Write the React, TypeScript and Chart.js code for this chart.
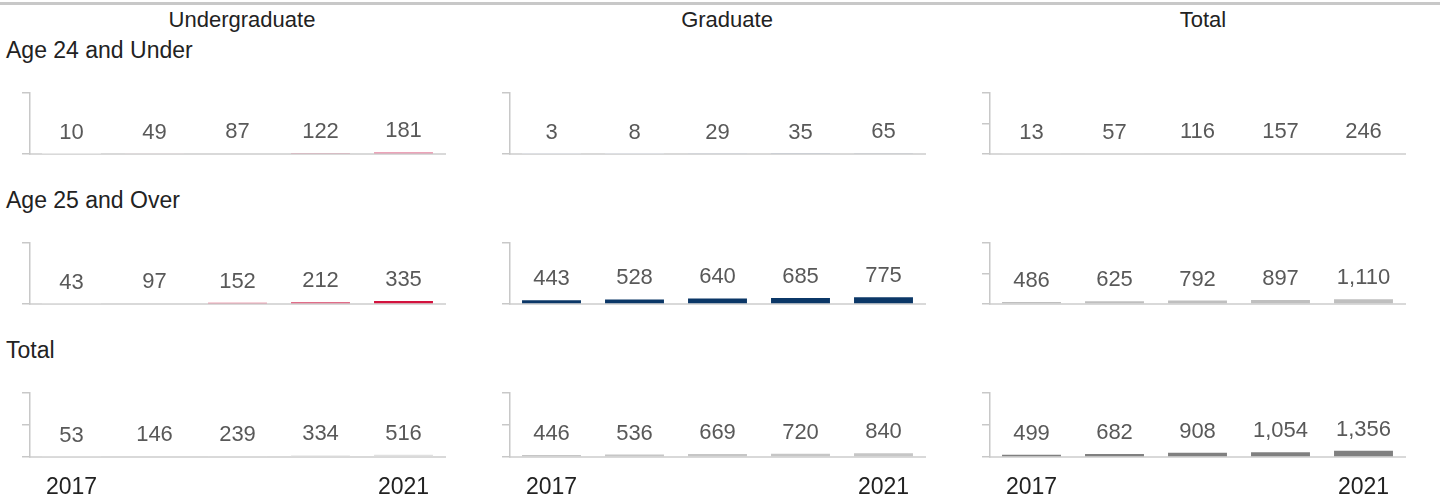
import React, { useEffect, useRef } from "react";
import { Chart, registerables } from "chart.js";

Chart.register(...registerables);

// ---- Data ----
const years = ["2017", "2018", "2019", "2020", "2021"];
const columnHeaders = ["Undergraduate", "Graduate", "Total"];
const rowTitles = ["Age 24 and Under", "Age 25 and Over", "Total"];

const ugAge24 = [10, 49, 87, 122, 181];
const ugAge25 = [43, 97, 152, 212, 335];
const ugTotal = [53, 146, 239, 334, 516];
const gradAge24 = [3, 8, 29, 35, 65];
const gradAge25 = [443, 528, 640, 685, 775];
const gradTotal = [446, 536, 669, 720, 840];
const totAge24 = [13, 57, 116, 157, 246];
const totAge25 = [486, 625, 792, 897, 1110];
const totTotal = [499, 682, 908, 1054, 1356];

// axis maxima per panel (row-major)
const axisMax = [
  [7000, 7000, 14000],
  [7000, 7000, 14000],
  [14000, 14000, 14000],
];

// ---- Styles ----
const ugAge24Colors = ["#eeeeee", "#eedde2", "#dc8aa0", "#d26b87", "#d94a74"];
const ugAge25Colors = ["#e6e6e6", "#efd4db", "#dc4d6e", "#d63d62", "#d3123e"];
const ugTotalColors = ["#e0e0e0", "#e0e0e0", "#e0e0e0", "#e0e0e0", "#e0e0e0"];
const gradAge24Colors = ["#dfe2e7", "#dfe2e7", "#cfd4dc", "#bfc5cf", "#b5bcc7"];
const gradAge25Colors = ["#0b3767", "#0b3767", "#0b3767", "#0b3767", "#0b3767"];
const gradTotalColors = ["#c6c6c6", "#c6c6c6", "#c6c6c6", "#c6c6c6", "#c6c6c6"];
const totAge24Colors = ["#dcdcdc", "#dcdcdc", "#dcdcdc", "#dcdcdc", "#dcdcdc"];
const totAge25Colors = ["#bfbfbf", "#bfbfbf", "#bfbfbf", "#bfbfbf", "#bfbfbf"];
const totTotalColors = ["#808080", "#808080", "#808080", "#808080", "#808080"];

const panels = [
  [
    { values: ugAge24, colors: ugAge24Colors },
    { values: gradAge24, colors: gradAge24Colors },
    { values: totAge24, colors: totAge24Colors },
  ],
  [
    { values: ugAge25, colors: ugAge25Colors },
    { values: gradAge25, colors: gradAge25Colors },
    { values: totAge25, colors: totAge25Colors },
  ],
  [
    { values: ugTotal, colors: ugTotalColors },
    { values: gradTotal, colors: gradTotalColors },
    { values: totTotal, colors: totTotalColors },
  ],
];

const FONT = '"Liberation Sans", Arial, Helvetica, sans-serif';
const COL_W = 480;
const rowLayout = [
  { top: 80, areaTop: 93, areaBottom: 154, height: 80 },
  { top: 230, areaTop: 243, areaBottom: 304, height: 80 },
  { top: 380, areaTop: 393, areaBottom: 457, height: 122 },
];
const headerCenters = [242, 727, 1203];
const titleCapCenters = [50.5, 200.5, 350.5];

const fmt = (v: number) => v.toLocaleString("en-US");

const valueLabelPlugin = {
  id: "valueLabels",
  afterDatasetsDraw(chart: any) {
    const ctx = chart.ctx;
    const meta = chart.getDatasetMeta(0);
    const data = chart.data.datasets[0].data as number[];
    ctx.save();
    ctx.font = `22px ${FONT}`;
    ctx.fillStyle = "#595959";
    ctx.textAlign = "center";
    ctx.textBaseline = "alphabetic";
    meta.data.forEach((bar: any, i: number) => {
      ctx.fillText(fmt(data[i]), bar.x, bar.y - 15);
    });
    ctx.restore();
  },
};

function Panel(props: {
  values: number[];
  colors: string[];
  max: number;
  left: number;
  row: number;
}) {
  const ref = useRef<HTMLCanvasElement>(null);
  const lay = rowLayout[props.row];
  const showYears = props.row === 2;
  useEffect(() => {
    const xHeight = lay.height - (lay.areaBottom - lay.top);
    const chart = new Chart(ref.current as HTMLCanvasElement, {
      type: "bar",
      data: {
        labels: years,
        datasets: [
          {
            data: props.values,
            backgroundColor: props.colors,
            barPercentage: 0.71,
            categoryPercentage: 1,
          },
        ],
      },
      options: {
        animation: false,
        responsive: false,
        devicePixelRatio: 1,
        layout: {
          padding: { left: 0, right: 35, top: lay.areaTop - lay.top, bottom: 0 },
        },
        plugins: {
          legend: { display: false },
          tooltip: { enabled: false },
        },
        scales: {
          x: {
            grid: { display: false, drawTicks: false },
            border: { display: true, color: "#d9d9d9", width: 2 },
            ticks: {
              display: showYears,
              autoSkip: false,
              maxRotation: 0,
              padding: 17,
              color: "#222222",
              font: { family: FONT, size: 23 },
              callback: (_v: any, i: number) =>
                i === 0 || i === years.length - 1 ? years[i] : "",
            },
            afterFit: (s: any) => {
              s.height = xHeight;
            },
          },
          y: {
            min: 0,
            max: props.max,
            ticks: { display: false, stepSize: 7000 },
            grid: {
              display: true,
              drawOnChartArea: false,
              drawTicks: true,
              tickLength: 8,
              color: "#c8c8c8",
              lineWidth: 1.5,
            },
            border: { display: true, color: "#c8c8c8", width: 1.5 },
            afterFit: (s: any) => {
              s.width = 30;
            },
          },
        },
      } as any,
      plugins: [valueLabelPlugin],
    });
    return () => chart.destroy();
  }, []);
  return (
    <canvas
      ref={ref}
      width={COL_W}
      height={lay.height}
      style={{
        position: "absolute",
        left: props.left,
        top: lay.top,
        width: COL_W,
        height: lay.height,
      }}
    />
  );
}

export default function App() {
  const headerSize = 22;
  const titleSize = 23;
  return (
    <div
      style={{
        position: "absolute",
        left: 0,
        top: 0,
        width: 1448,
        height: 502,
        background: "#ffffff",
        fontFamily: FONT,
        overflow: "hidden",
      }}
    >
      <div
        style={{
          position: "absolute",
          left: 0,
          top: 2,
          width: 1440,
          height: 3,
          background: "#c8c8c8",
        }}
      />
      {columnHeaders.map((h, i) => (
        <div
          key={h}
          style={{
            position: "absolute",
            left: headerCenters[i],
            top: 20 - 0.4885 * headerSize,
            transform: "translateX(-50%)",
            fontSize: headerSize,
            lineHeight: 1,
            color: "#222222",
            whiteSpace: "nowrap",
          }}
        >
          {h}
        </div>
      ))}
      {rowTitles.map((t, i) => (
        <div
          key={t + i}
          style={{
            position: "absolute",
            left: 6,
            top: titleCapCenters[i] - 0.4885 * titleSize,
            fontSize: titleSize,
            lineHeight: 1,
            color: "#222222",
            whiteSpace: "nowrap",
          }}
        >
          {t}
        </div>
      ))}
      {panels.map((row, r) =>
        row.map((p, c) => (
          <Panel
            key={`${r}-${c}`}
            values={p.values}
            colors={p.colors}
            max={axisMax[r][c]}
            left={c * COL_W}
            row={r}
          />
        ))
      )}
    </div>
  );
}
